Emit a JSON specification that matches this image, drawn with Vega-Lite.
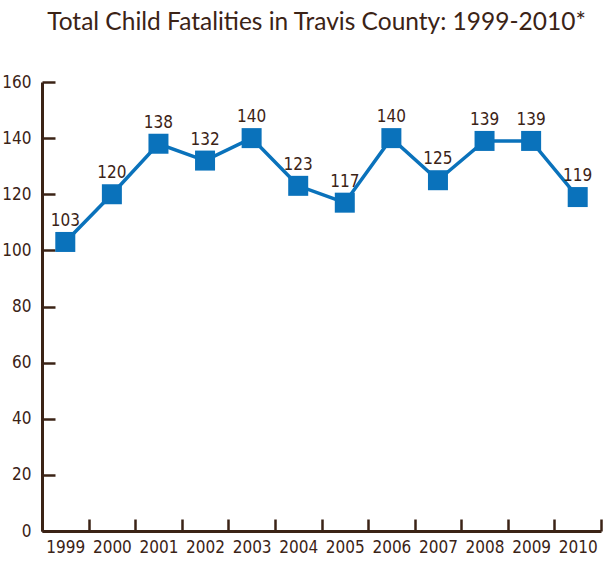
{
  "$schema": "https://vega.github.io/schema/vega-lite/v6.json",
  "width": 559,
  "height": 449,
  "autosize": "none",
  "padding": {"left": 42, "top": 82, "right": 6, "bottom": 33},
  "background": "white",
  "title": {
    "text": "Total Child Fatalities in Travis County: 1999-2010*",
    "font": "Lato",
    "fontSize": 24.5,
    "fontWeight": "normal",
    "color": "#3b2316",
    "anchor": "middle",
    "dx": -5,
    "offset": 38
  },
  "data": {
    "values": [
      {"year": "1999", "count": 103},
      {"year": "2000", "count": 120},
      {"year": "2001", "count": 138},
      {"year": "2002", "count": 132},
      {"year": "2003", "count": 140},
      {"year": "2004", "count": 123},
      {"year": "2005", "count": 117},
      {"year": "2006", "count": 140},
      {"year": "2007", "count": 125},
      {"year": "2008", "count": 139},
      {"year": "2009", "count": 139},
      {"year": "2010", "count": 119}
    ]
  },
  "encoding": {
    "x": {
      "field": "year",
      "type": "ordinal",
      "scale": {"type": "band", "paddingInner": 0, "paddingOuter": 0},
      "axis": {
        "title": null,
        "labelAngle": 0,
        "tickBand": "extent",
        "tickSize": -12,
        "tickWidth": 2.5,
        "tickColor": "#3b2316",
        "domainColor": "#3b2316",
        "domainWidth": 3,
        "labelFont": "DejaVu Sans Condensed",
        "labelFontSize": 17,
        "labelColor": "#3b2316",
        "labelPadding": 20
      }
    },
    "y": {
      "field": "count",
      "type": "quantitative",
      "scale": {"domain": [0, 160], "nice": false},
      "axis": {
        "title": null,
        "values": [0, 20, 40, 60, 80, 100, 120, 140, 160],
        "tickSize": -13,
        "tickWidth": 2.5,
        "tickColor": "#3b2316",
        "domainColor": "#3b2316",
        "domainWidth": 3,
        "labelFont": "DejaVu Sans Condensed",
        "labelFontSize": 17,
        "labelColor": "#3b2316",
        "labelPadding": 24,
        "grid": false
      }
    }
  },
  "layer": [
    {"mark": {"type": "line", "color": "#0a72bb", "strokeWidth": 3.5}},
    {"mark": {"type": "point", "shape": "square", "filled": true, "size": 400, "color": "#0a72bb", "opacity": 1}},
    {
      "mark": {"type": "text", "baseline": "bottom", "dy": -12, "font": "DejaVu Sans Condensed", "fontSize": 17, "color": "#3b2316"},
      "encoding": {"text": {"field": "count", "type": "quantitative"}}
    }
  ],
  "config": {"view": {"stroke": null}}
}
